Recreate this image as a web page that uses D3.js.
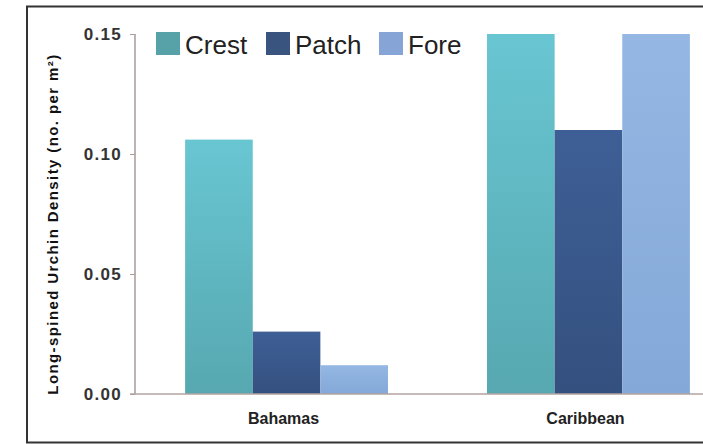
<!DOCTYPE html>
<html><head><meta charset="utf-8">
<script src="https://cdn.jsdelivr.net/npm/d3@7"></script>
<style>body{margin:0;background:#fff}svg{display:block}</style>
</head><body>
<svg id="c" width="703" height="444"></svg>
<script>
const regions = ["Bahamas", "Caribbean"];
const series = ["Crest", "Patch", "Fore"];
const crestValues = [0.106, 0.150];
const patchValues = [0.026, 0.110];
const foreValues = [0.012, 0.150];
const yTicks = [0.00, 0.05, 0.10, 0.15];
const yTitle = "Long-spined Urchin Density (no. per m\u00B2)";

const barTop = {Crest: "#68c6d2", Patch: "#3e5f96", Fore: "#94b7e3"};
const barBot = {Crest: "#57a8b0", Patch: "#34507f", Fore: "#84a8d8"};
const swatch = {Crest: "#57a2a8", Patch: "#3a5480", Fore: "#86a5d6"};

const valuesBySeries = {Crest: crestValues, Patch: patchValues, Fore: foreValues};
const data = regions.map((r, i) => ({region: r, vals: series.map(s => ({s, v: valuesBySeries[s][i]}))}));

const svg = d3.select("#c");
const defs = svg.append("defs");
series.forEach(s => {
  const g = defs.append("linearGradient").attr("id", "g" + s).attr("x1", 0).attr("y1", 0).attr("x2", 0).attr("y2", 1);
  g.append("stop").attr("offset", "0%").attr("stop-color", barTop[s]);
  g.append("stop").attr("offset", "100%").attr("stop-color", barBot[s]);
});

svg.append("rect").attr("x", 0).attr("y", 0).attr("width", 703).attr("height", 444).attr("fill", "#fff");
svg.append("rect").attr("x", 27).attr("y", 6.5).attr("width", 720).attr("height", 436)
  .attr("fill", "none").attr("stroke", "#333").attr("stroke-width", 2);

const y = d3.scaleLinear().domain([0, 0.15]).range([394, 34]);
const x0 = d3.scaleBand().domain(regions).range([135, 740]).paddingInner(0.328).paddingOuter(0.166);
const x1 = d3.scaleBand().domain(series).range([0, x0.bandwidth()]).padding(0);

const groups = svg.append("g").selectAll("g").data(data).join("g")
  .attr("transform", d => `translate(${x0(d.region)},0)`);
groups.selectAll("rect").data(d => d.vals).join("rect")
  .attr("x", d => x1(d.s)).attr("width", x1.bandwidth())
  .attr("y", d => y(d.v)).attr("height", d => y(0) - y(d.v))
  .attr("fill", d => `url(#g${d.s})`);

// y axis
const yAxis = svg.append("g").attr("transform", "translate(135,0)")
  .call(d3.axisLeft(y).tickValues(yTicks).tickFormat(d3.format(".2f")).tickSize(5).tickPadding(8));
yAxis.select(".domain").attr("stroke", "#a89a98").attr("stroke-width", 1.5).attr("d", "M0,34V394");
yAxis.selectAll(".tick line").attr("stroke", "#a89a98");
yAxis.selectAll(".tick text").attr("fill", "#333").style("font", "bold 17px 'Liberation Sans', Arial, sans-serif")
  .style("letter-spacing", "1.3px");

// x axis
const xAxis = svg.append("g").attr("transform", "translate(0,394)")
  .call(d3.axisBottom(x0).tickSize(0).tickPadding(19));
xAxis.select(".domain").attr("stroke", "#b3a3a0").attr("stroke-width", 1.5).attr("d", "M130,0H703");
xAxis.selectAll(".tick text").attr("fill", "#222").attr("dx", -3).style("font", "bold 16px 'Liberation Sans', Arial, sans-serif");

// y title
svg.append("text").attr("transform", "translate(58,224) rotate(-90)")
  .attr("text-anchor", "middle").attr("fill", "#111")
  .style("font", "bold 15px 'Liberation Sans', Arial, sans-serif").style("letter-spacing", "1.4px").text(yTitle);

// legend
const legX = [156, 266, 379];
const leg = svg.append("g").selectAll("g").data(series).join("g")
  .attr("transform", (d, i) => `translate(${legX[i]},32)`);
leg.append("rect").attr("width", 24).attr("height", 23).attr("fill", d => swatch[d]);
leg.append("text").attr("x", 29).attr("y", 22).attr("fill", "#222")
  .style("font", "26px 'Liberation Sans', Arial, sans-serif").text(d => d);
</script>
</body></html>
